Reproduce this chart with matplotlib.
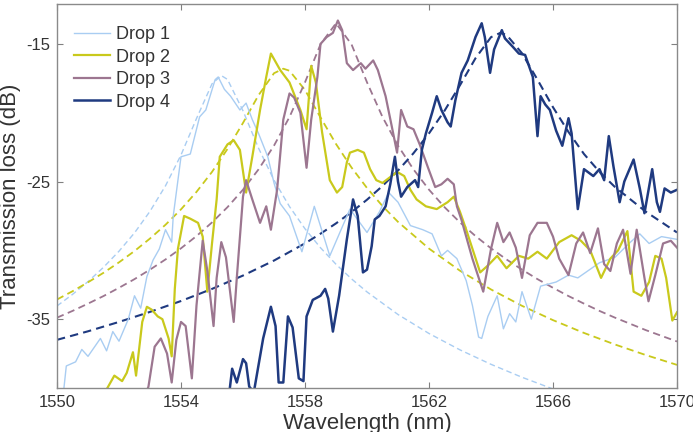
import matplotlib
matplotlib.use('Agg')
import matplotlib.pyplot as plt

plt.rcParams['font.family'] = ['Liberation Sans', 'DejaVu Sans']
plt.rcParams['axes.unicode_minus'] = False

drop1_x = [1550.2, 1550.3, 1550.6, 1550.8, 1551.0, 1551.4, 1551.6, 1551.8, 1552.0, 1552.3,
           1552.5, 1552.7, 1552.9, 1553.1, 1553.3, 1553.5, 1553.7, 1553.75, 1554.0, 1554.3,
           1554.6, 1554.8, 1555.1, 1555.2, 1555.4, 1555.6, 1555.9, 1556.1, 1556.3, 1556.5,
           1556.8, 1557.0, 1557.2, 1557.5, 1557.9, 1558.3, 1558.8, 1559.45, 1560.0, 1560.4,
           1560.7, 1561.0, 1561.4, 1561.8, 1562.1, 1562.4, 1562.6, 1562.9, 1563.2, 1563.4,
           1563.6, 1563.7, 1563.9, 1564.2, 1564.4, 1564.6, 1564.8, 1565.0, 1565.3, 1565.6,
           1566.1, 1566.5, 1566.8, 1567.5, 1568.0, 1568.5, 1568.8, 1569.1, 1569.5, 1570.0]
drop1_y = [-40.5, -38.4, -38.1, -37.2, -37.7, -36.4, -37.3, -35.9, -36.6, -35.0,
           -33.3, -34.2, -31.9, -30.7, -29.9, -28.5, -29.4, -27.5, -23.2, -23.0,
           -20.3, -19.8, -17.6, -17.4, -18.3, -18.8, -19.8, -19.3, -20.5, -21.5,
           -23.2, -25.1, -26.6, -27.5, -30.1, -26.8, -30.4, -27.0, -28.7, -27.2,
           -25.8, -26.5, -28.2, -28.5, -28.8, -30.4, -30.0, -30.6, -32.2, -34.0,
           -36.3, -36.4, -34.8, -33.3, -35.7, -34.6, -35.2, -33.0, -35.0, -32.6,
           -32.3, -31.8, -32.0, -30.9, -30.5, -29.4, -28.8, -29.5, -29.0, -29.2]

drop2_x = [1551.5, 1551.65, 1551.85, 1552.1, 1552.25, 1552.45, 1552.55, 1552.75, 1552.9, 1553.05,
           1553.25, 1553.4, 1553.6, 1553.7, 1553.8, 1553.9, 1554.1, 1554.3, 1554.55, 1554.7,
           1554.85, 1555.0, 1555.15, 1555.25, 1555.5, 1555.7, 1555.9, 1556.1, 1556.3, 1556.55,
           1556.75, 1556.9, 1557.2, 1557.5, 1557.85, 1558.05, 1558.2, 1558.35, 1558.55, 1558.8,
           1559.03, 1559.2, 1559.35, 1559.45, 1559.7, 1559.9, 1560.1, 1560.3, 1560.5, 1560.97,
           1561.2, 1561.4, 1561.6, 1561.9, 1562.25, 1562.6, 1562.8, 1563.0, 1563.2, 1563.65,
           1563.9, 1564.2, 1564.5, 1564.9, 1565.2, 1565.5, 1565.8, 1566.2, 1566.6, 1566.9,
           1567.2, 1567.55, 1567.85, 1568.1, 1568.4, 1568.6, 1568.85, 1569.1, 1569.3, 1569.5,
           1569.65, 1569.85, 1570.0]
drop2_y = [-40.5, -39.9, -39.1, -39.5, -38.9, -37.4, -39.1, -35.2, -34.1, -34.3,
           -34.8, -35.0, -36.4, -37.7, -32.8, -29.9, -27.5, -27.7, -28.0, -29.0,
           -33.0, -29.5, -26.3, -23.2, -22.3, -22.0, -22.7, -25.8, -23.2, -19.8,
           -17.4, -15.7, -16.9, -17.8, -19.8, -21.2, -16.6, -17.8, -21.4, -24.9,
           -25.8, -25.4, -23.6, -22.9, -22.7, -22.9, -24.1, -24.9, -25.1, -24.3,
           -24.6, -25.6, -26.3, -26.8, -27.0, -26.5, -26.1, -27.2, -28.5, -31.6,
           -31.1, -30.4, -31.3, -30.4, -30.6, -30.1, -30.6, -29.4, -28.9, -29.3,
           -30.0, -32.0, -30.6, -30.0, -28.6, -33.0, -33.3, -32.3, -30.4, -30.6,
           -32.0, -35.1, -34.5]

drop3_x = [1552.85, 1552.95, 1553.15, 1553.35, 1553.55, 1553.7, 1553.85, 1554.0, 1554.15, 1554.35,
           1554.5, 1554.7, 1554.85, 1555.05, 1555.15, 1555.3, 1555.45, 1555.7, 1555.8, 1556.0,
           1556.1, 1556.3, 1556.55, 1556.75, 1556.9, 1557.1, 1557.3, 1557.5, 1557.65, 1557.85,
           1558.05, 1558.2, 1558.4, 1558.5, 1558.7, 1558.9, 1559.06, 1559.2, 1559.35, 1559.55,
           1559.8, 1559.95, 1560.2, 1560.35, 1560.6, 1560.8, 1560.97, 1561.1, 1561.3, 1561.5,
           1561.7, 1561.97, 1562.2, 1562.4, 1562.6, 1562.8, 1562.9, 1563.05, 1563.4, 1563.75,
           1564.0, 1564.2, 1564.4, 1564.6, 1564.8, 1565.0, 1565.25, 1565.5, 1565.8, 1566.0,
           1566.2, 1566.5, 1566.75, 1566.97, 1567.2, 1567.45, 1567.65, 1567.85, 1568.06, 1568.26,
           1568.5, 1568.7, 1568.95, 1569.08, 1569.3, 1569.55, 1569.8, 1570.0]
drop3_y = [-40.5, -39.9, -37.0, -36.4, -37.5, -39.6, -36.5, -35.2, -35.5, -39.3,
           -34.0, -29.3, -31.5, -35.5, -32.0, -29.4, -30.5, -35.2, -32.0, -26.1,
           -24.9, -26.3, -28.0, -26.8, -28.5, -25.6, -20.5, -18.6, -18.9, -20.0,
           -24.0, -20.5, -17.4, -15.0, -14.5, -14.2, -13.3, -14.0, -16.4, -16.9,
           -16.4, -16.8, -16.2, -16.9, -18.8, -21.0, -22.9, -19.8, -21.0, -21.2,
           -22.3, -24.0, -25.4, -25.2, -24.8, -25.2, -26.8, -27.8, -30.6, -33.0,
           -29.9, -28.0, -29.4, -28.7, -29.8, -32.0, -28.9, -28.0, -28.0, -29.0,
           -30.6, -31.8, -29.5, -28.7, -30.2, -28.4, -31.0, -31.5, -29.5, -28.5,
           -31.7, -28.5, -32.0, -33.7, -31.8, -29.5, -29.3, -29.8]

drop4_x = [1555.55, 1555.65, 1555.8, 1556.0, 1556.1, 1556.2, 1556.35, 1556.65, 1556.9, 1557.05,
           1557.15, 1557.3, 1557.45, 1557.6, 1557.8, 1557.95, 1558.05, 1558.25, 1558.5, 1558.65,
           1558.75, 1558.9, 1559.1, 1559.35, 1559.55, 1559.7, 1559.87, 1560.0, 1560.15, 1560.25,
           1560.4, 1560.6, 1560.75, 1560.9, 1561.0, 1561.1, 1561.3, 1561.55, 1561.65, 1561.77,
           1561.9, 1562.1, 1562.25, 1562.4, 1562.6, 1562.7, 1562.85, 1563.05, 1563.25, 1563.5,
           1563.7, 1563.8, 1563.97, 1564.1, 1564.35, 1564.45, 1564.7, 1564.9, 1565.1, 1565.35,
           1565.5, 1565.6, 1565.75, 1565.9, 1566.1, 1566.3, 1566.5, 1566.6, 1566.8, 1567.0,
           1567.3, 1567.5, 1567.65, 1567.8, 1567.95, 1568.15, 1568.3, 1568.6, 1568.8, 1568.95,
           1569.2, 1569.35, 1569.45, 1569.6, 1569.8, 1570.0]
drop4_y = [-40.5, -38.6, -39.6, -37.9, -38.2, -39.9, -40.3, -36.4, -34.1, -35.5,
           -39.6, -39.6, -34.8, -35.6, -39.3, -39.5, -34.8, -33.6, -33.3, -32.8,
           -33.5, -35.9, -33.3, -29.2, -26.3, -27.5, -31.6, -31.4, -29.7, -27.75,
           -27.5, -26.8, -25.2, -23.2, -25.0, -26.1, -25.4, -24.9, -25.4, -22.7,
           -21.5, -20.0, -18.8, -19.8, -20.7, -21.0, -19.1, -17.1, -16.2, -14.5,
           -13.5, -14.5, -17.1, -15.4, -14.0, -14.6, -15.2, -15.7, -15.8, -17.4,
           -21.7, -18.8, -19.4, -19.8, -21.3, -22.4, -20.4, -21.5, -27.0, -24.1,
           -24.6, -24.1, -24.9, -21.7, -23.9, -26.5, -25.0, -23.4, -25.5, -27.3,
           -24.1, -26.5, -27.2, -25.5, -25.8, -25.6]

# dashed fitted curves
fit1_x = [1550, 1550.5, 1551, 1551.5, 1552, 1552.5, 1553, 1553.5, 1554, 1554.5, 1555, 1555.3,
          1555.5, 1556, 1556.5, 1557, 1557.5, 1558, 1558.5, 1559, 1559.5, 1560, 1561, 1562,
          1563, 1564, 1565, 1566]
fit1_y = [-34.04, -33.20, -32.27, -31.23, -30.06, -28.73, -27.16, -25.31, -23.07, -20.42, -17.90, -17.3,
          -17.58, -19.86, -22.57, -24.90, -26.82, -28.43, -29.81, -31.01, -32.07, -33.02, -34.66, -36.04,
          -37.23, -38.28, -39.22, -40.07]

fit2_x = [1550, 1550.5, 1551, 1551.5, 1552, 1552.5, 1553, 1553.5, 1554, 1554.5, 1555, 1555.5,
          1556, 1556.5, 1557, 1557.3, 1557.5, 1558, 1558.5, 1559, 1559.5, 1560, 1560.5, 1561,
          1562, 1563, 1564, 1565, 1566, 1567, 1568, 1569, 1570]
fit2_y = [-33.57, -32.97, -32.32, -31.63, -30.87, -30.05, -29.14, -28.14, -27.02, -25.75, -24.30, -22.63,
          -20.74, -18.73, -17.13, -16.8, -16.95, -18.35, -20.34, -22.27, -23.98, -25.47, -26.78, -27.93,
          -29.87, -31.48, -32.84, -34.03, -35.07, -36.00, -36.84, -37.61, -38.32]

fit3_x = [1550, 1550.5, 1551, 1551.5, 1552, 1552.5, 1553, 1553.5, 1554, 1554.5, 1555, 1555.5,
          1556, 1556.5, 1557, 1557.5, 1558, 1558.5, 1559, 1559.5, 1560, 1560.5, 1561, 1561.5,
          1562, 1562.5, 1563, 1563.5, 1564, 1564.5, 1565, 1565.5, 1566, 1566.5, 1567, 1567.5,
          1568, 1569, 1570]
fit3_y = [-34.89, -34.40, -33.87, -33.32, -32.72, -32.09, -31.40, -30.66, -29.85, -28.96, -27.97, -26.86,
          -25.59, -24.12, -22.39, -20.31, -17.79, -15.03, -13.5, -15.03, -17.79, -20.31, -22.39, -24.12,
          -25.59, -26.86, -27.97, -28.96, -29.85, -30.66, -31.40, -32.09, -32.72, -33.32, -33.87, -34.40,
          -34.89, -35.80, -36.62]

fit4_x = [1550, 1551, 1552, 1553, 1554, 1555, 1556, 1557, 1558, 1558.5, 1559, 1559.5,
          1560, 1560.5, 1561, 1561.5, 1562, 1562.5, 1563, 1563.5, 1564, 1564.3, 1564.5, 1565,
          1565.5, 1566, 1566.5, 1567, 1567.5, 1568, 1569, 1570]
fit4_y = [-36.50, -35.88, -35.20, -34.47, -33.68, -32.80, -31.83, -30.74, -29.49, -28.79, -28.04, -27.22,
          -26.32, -25.32, -24.20, -22.94, -21.50, -19.86, -18.00, -16.04, -14.51, -14.2, -14.34, -15.68,
          -17.60, -19.60, -21.40, -23.00, -24.30, -25.40, -27.20, -28.70]

labels = ['Drop 1', 'Drop 2', 'Drop 3', 'Drop 4']
colors = ['#a9cdf2', '#c9c91c', '#9c7690', '#1f3a80']
widths = [1.0, 1.6, 1.6, 1.8]

fig = plt.figure(figsize=(6.93, 4.32), dpi=100)
ax = fig.add_axes([57 / 693, 44 / 432, 620 / 693, 384 / 432])

measured = [(drop1_x, drop1_y), (drop2_x, drop2_y), (drop3_x, drop3_y), (drop4_x, drop4_y)]
fits = [(fit1_x, fit1_y), (fit2_x, fit2_y), (fit3_x, fit3_y), (fit4_x, fit4_y)]

for (fx, fy), c, w in zip(fits, colors, widths):
    ax.plot(fx, fy, color=c, lw=max(w - 0.3, 1.0), dashes=(4, 2.5))
for (mx, my), c, w, lab in zip(measured, colors, widths, labels):
    ax.plot(mx, my, color=c, lw=w, label=lab, solid_joinstyle='round')

ax.set_xlim(1550, 1570)
ax.set_ylim(-40, -12.1)
ax.set_xticks([1550, 1554, 1558, 1562, 1566, 1570])
ax.set_yticks([-35, -25, -15])
ax.tick_params(direction='in', top=True, right=True, length=4, width=0.8,
               color='#808080', labelsize=12, labelcolor='#333333', pad=5)
for s in ax.spines.values():
    s.set_color('#8a8a8a')
    s.set_linewidth(1.0)

ax.set_xlabel('Wavelength (nm)', fontsize=16, color='#333333')
ax.set_ylabel('Transmission loss (dB)', fontsize=16, color='#333333')
ax.xaxis.set_label_coords(0.5, -0.066)
ax.yaxis.set_label_coords(-0.058, 0.5)

leg = ax.legend(loc='upper left', frameon=False, fontsize=13, handlelength=2.0,
                handletextpad=0.3, labelspacing=0.3, borderaxespad=0.2,
                bbox_to_anchor=(0.01, 0.97))
for t in leg.get_texts():
    t.set_color('#333333')

fig.savefig('out.png', dpi=100)
